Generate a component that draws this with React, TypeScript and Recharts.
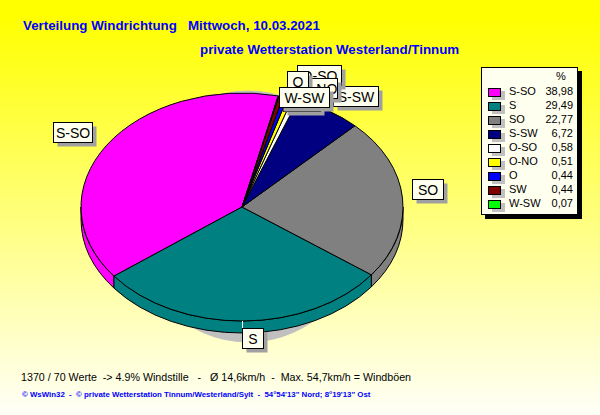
import React from 'react';
import { PieChart, Pie, Legend } from 'recharts';

const richtungen = ['S-SO', 'S', 'SO', 'S-SW', 'O-SO', 'O-NO', 'O', 'SW', 'W-SW'];
const prozent = [38.98, 29.49, 22.77, 6.72, 0.58, 0.51, 0.44, 0.44, 0.07];
const farben = ['#ff00ff', '#008080', '#808080', '#000080', '#ffffff', '#ffff00', '#0000ff', '#800000', '#00ff00'];
const schatten = [50, 50];

const daten = richtungen.map((name, i) => ({ name, value: prozent[i], fill: farben[i] }));
const schattenDaten = schatten.map((value, i) => ({ name: `schatten${i}`, value, fill: '#c0c0c0' }));

const CX = 242;
const CY = 207;
const RX = 161;
const RY = 114;
const TIEFE = 12;

// label box: offset of top-left corner from the point on the rim, and box width
const labelBox: Record<string, [number, number, number]> = {
  'S-SO': [-54, -23, 39],
  S: [-1, 7, 21],
  SO: [9.5, -19, 31],
  'S-SW': [4.6, -25, 45],
  'O-SO': [2, -34, 44],
  'O-NO': [10, -20, 37],
  O: [2, -26, 21],
  SW: [2, -5, 37],
  'W-SW': [0, -9, 50],
};

const rad = (a: number) => (a * Math.PI) / 180;
const rand = (a: number, cy = CY): [number, number] => [CX + RX * Math.cos(rad(a)), cy - RY * Math.sin(rad(a))];

function Deckel(props: any) {
  const { startAngle, endAngle, fill } = props;
  const [x0, y0] = rand(startAngle);
  const [x1, y1] = rand(endAngle);
  const gross = endAngle - startAngle > 180 ? 1 : 0;
  return (
    <path
      d={`M${CX},${CY} L${x0},${y0} A${RX},${RY} 0 ${gross} 0 ${x1},${y1} Z`}
      fill={fill}
      stroke="#000"
      strokeWidth={1}
    />
  );
}

function Wand(props: any) {
  const { startAngle, endAngle, fill } = props;
  // only the front half of the rim is visible
  const a = Math.max(startAngle, 180);
  const b = Math.min(endAngle, 360);
  if (b <= a) return <g />;
  const [x0, y0] = rand(a);
  const [x1, y1] = rand(b);
  return (
    <path
      d={`M${x0},${y0} A${RX},${RY} 0 0 0 ${x1},${y1} L${x1},${y1 + TIEFE} A${RX},${RY} 0 0 1 ${x0},${y0 + TIEFE} Z`}
      fill={fill}
      stroke="#000"
      strokeWidth={1}
    />
  );
}

function Schatten(props: any) {
  const { startAngle, endAngle, fill } = props;
  const sx = 248;
  const sy = 216.5;
  const rx = 118;
  const ry = 125.5;
  const x0 = sx + rx * Math.cos(rad(startAngle));
  const y0 = sy - ry * Math.sin(rad(startAngle));
  const x1 = sx + rx * Math.cos(rad(endAngle));
  const y1 = sy - ry * Math.sin(rad(endAngle));
  return <path d={`M${x0},${y0} A${rx},${ry} 0 0 0 ${x1},${y1} Z`} fill={fill} stroke={fill} />;
}

function Beschriftung(props: any) {
  const { midAngle, name } = props;
  const [x, y] = rand(midAngle);
  const [dx, dy, w] = labelBox[name];
  const bx = Math.round(x + dx) + 0.5;
  const by = Math.round(y + dy) + 0.5;
  return (
    <g>
      {name === 'S' && <line x1={CX + 0.5} y1={321} x2={CX + 0.5} y2={by} stroke="#fff" />}
      <rect x={bx + 4} y={by + 4} width={w} height={20} fill="#a0a0a0" />
      <rect x={bx} y={by} width={w} height={20} fill="#fffff0" stroke="#000" />
      <text
        x={bx + w / 2}
        y={by + 15}
        textAnchor="middle"
        fontFamily="'Liberation Sans', Arial, sans-serif"
        fontSize={14}
        fill="#000"
      >
        {name}
      </text>
    </g>
  );
}

function Legende(props: any) {
  // two pies feed the legend, so keep one entry per direction in data order
  const payload = props.payload ?? [];
  const eintraege = richtungen.map((n) => payload.find((e: any) => e.value === n)).filter(Boolean);
  return (
    <div
      style={{
        position: 'relative',
        width: 95,
        height: 146,
        background: '#fffff0',
        border: '1px solid #000',
        boxShadow: '4px 4px 0 #000',
        fontFamily: "'Liberation Sans', Arial, sans-serif",
        fontSize: 11,
        color: '#000',
      }}
    >
      <div style={{ position: 'absolute', left: 74, top: 2 }}>%</div>
      {eintraege.map((e: any, i: number) => (
        <div key={e.value} style={{ position: 'absolute', left: 0, top: 17 + i * 14, width: 95, height: 14 }}>
          <span
            style={{
              position: 'absolute',
              left: 6,
              top: 3,
              width: 11,
              height: 7,
              background: e.payload.fill,
              border: '1px solid #000',
              boxShadow: '4px 3px 0 #c0c0c0',
            }}
          />
          <span style={{ position: 'absolute', left: 27, top: 0 }}>{e.value}</span>
          <span style={{ position: 'absolute', right: 4, top: 0 }}>
            {e.payload.value.toFixed(2).replace('.', ',')}
          </span>
        </div>
      ))}
    </div>
  );
}

const pre = { whiteSpace: 'pre' } as const;

export default function App() {
  return (
    <div
      style={{
        position: 'absolute',
        left: 0,
        top: 0,
        width: 600,
        height: 415,
        background: 'linear-gradient(#ffff00 0%, #ffff00 4%, #fffff8 100%)',
      }}
    >
      <PieChart width={600} height={415} margin={{ top: 0, right: 0, bottom: 0, left: 0 }}>
        <Pie
          data={schattenDaten}
          dataKey="value"
          cx={CX}
          cy={CY}
          outerRadius={RX}
          shape={Schatten}
          legendType="none"
          isAnimationActive={false}
        />
        <Pie
          data={daten}
          dataKey="value"
          nameKey="name"
          cx={CX}
          cy={CY}
          outerRadius={RX}
          startAngle={77}
          endAngle={437}
          shape={Wand}
          legendType="none"
          isAnimationActive={false}
        />
        <Pie
          data={daten}
          dataKey="value"
          nameKey="name"
          cx={CX}
          cy={CY}
          outerRadius={RX}
          startAngle={77}
          endAngle={437}
          shape={Deckel}
          label={Beschriftung}
          labelLine={false}
          isAnimationActive={false}
        />
        <Legend
          content={Legende}
          layout="vertical"
          wrapperStyle={{ position: 'absolute', left: 481, top: 67, width: 100 }}
        />
        <g fontFamily="'Liberation Sans', Arial, sans-serif">
          <text x={23} y={30} fontSize={13.33} fontWeight="bold" fill="#0000ff" style={pre}>
            {'Verteilung Windrichtung   Mittwoch, 10.03.2021'}
          </text>
          <text x={200} y={54} fontSize={13.33} fontWeight="bold" fill="#0000ff" style={pre}>
            private Wetterstation Westerland/Tinnum
          </text>
          <text x={21} y={381} fontSize={10.7} fill="#000" style={pre}>
            {'1370 / 70 Werte  -> 4.9% Windstille   -   Ø 14,6km/h  -  Max. 54,7km/h = Windböen'}
          </text>
          <text x={22} y={397} fontSize={7.85} fontWeight="bold" fill="#0000ff" style={pre}>
            {'© WsWin32  -  © private Wetterstation Tinnum/Westerland/Sylt  -  54°54\'13" Nord; 8°19\'13" Ost'}
          </text>
        </g>
      </PieChart>
    </div>
  );
}
